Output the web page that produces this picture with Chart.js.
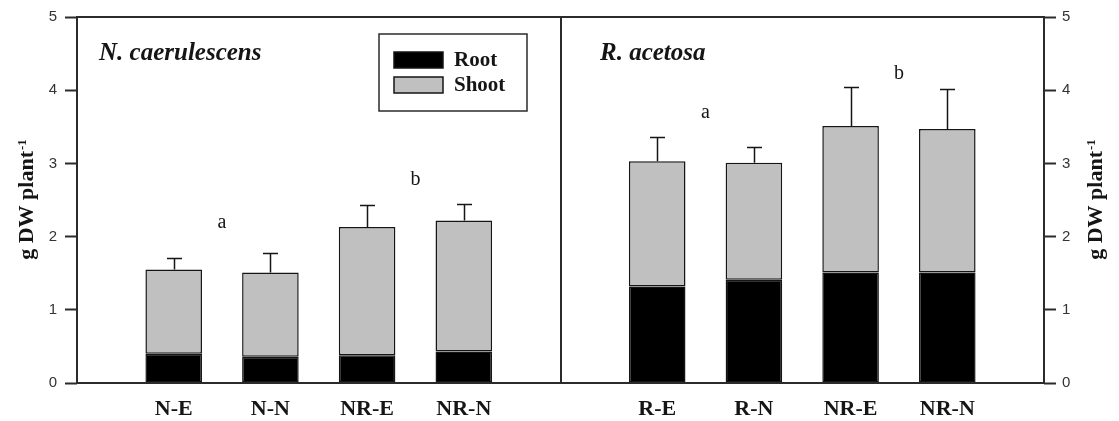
<!DOCTYPE html>
<html>
<head>
<meta charset="utf-8">
<script src="https://cdn.jsdelivr.net/npm/chart.js@4.4.0/dist/chart.umd.min.js"></script>
<style>
  html, body { margin: 0; padding: 0; background: #fff; }
  #wrap { width: 1119px; height: 421px; }
</style>
</head>
<body>
<div id="wrap"><canvas id="dwChart"></canvas></div>
<script>
// treatments in each species panel
const leftLabels = ['N-E', 'N-N', 'NR-E', 'NR-N'];
const rightLabels = ['R-E', 'R-N', 'NR-E', 'NR-N'];
const speciesNames = ['N. caerulescens', 'R. acetosa'];

// g dry weight per plant: root part, shoot part, SE of the total
const rootLeft = [0.40, 0.36, 0.38, 0.43];
const shootLeft = [1.15, 1.15, 1.75, 1.79];
const errLeft = [0.16, 0.27, 0.30, 0.23];
const rootRight = [1.32, 1.41, 1.51, 1.51];
const shootRight = [1.71, 1.60, 2.00, 1.96];
const errRight = [0.33, 0.21, 0.54, 0.54];

// significance letters, one per pair of bars, and their heights
const letters = ['a', 'b'];
const letterLeftY = [2.19, 2.77];
const letterRightY = [3.69, 4.22];

const yTicks = [0, 1, 2, 3, 4, 5];

// each panel is 5 units wide, bars sit at 1..4
const PANEL = 5;
const xPos = leftLabels.map((_, i) => i + 1).concat(rightLabels.map((_, i) => PANEL + i + 1));
const allLabels = leftLabels.concat(rightLabels);
const roots = rootLeft.concat(rootRight);
const shoots = shootLeft.concat(shootRight);
const errs = errLeft.concat(errRight);

const serif = '"Liberation Serif", "Times New Roman", serif';
const sans = '"Liberation Sans", Arial, sans-serif';
const ink = '#151515';
const lineCol = '#2b2b2b';

function drawYTitle(ctx, cx, cy) {
  const main = 'g DW plant';
  const sup = '-1';
  ctx.save();
  ctx.translate(cx, cy);
  ctx.rotate(-Math.PI / 2);
  ctx.fillStyle = ink;
  ctx.textBaseline = 'alphabetic';
  ctx.font = 'bold 22px ' + serif;
  const w1 = ctx.measureText(main).width;
  ctx.font = 'bold 13px ' + serif;
  const w2 = ctx.measureText(sup).width;
  const start = -(w1 + w2) / 2;
  ctx.font = 'bold 22px ' + serif;
  ctx.textAlign = 'left';
  ctx.fillText(main, start, 0);
  ctx.font = 'bold 13px ' + serif;
  ctx.fillText(sup, start + w1 + 1, -7);
  ctx.restore();
}

const decorPlugin = {
  id: 'decor',
  afterDatasetsDraw(chart) {
    const {ctx, chartArea: a, scales: {x, y}} = chart;
    ctx.save();

    // error bars, upper side only
    ctx.strokeStyle = ink;
    ctx.lineWidth = 1.5;
    xPos.forEach((xv, i) => {
      const px = Math.round(x.getPixelForValue(xv)) + 0.5;
      const top = y.getPixelForValue(roots[i] + shoots[i]);
      const hi = Math.round(y.getPixelForValue(roots[i] + shoots[i] + errs[i])) + 0.5;
      ctx.beginPath();
      ctx.moveTo(px, top);
      ctx.lineTo(px, hi);
      ctx.moveTo(px - 7.5, hi);
      ctx.lineTo(px + 7.5, hi);
      ctx.stroke();
    });

    // frame and panel divider
    ctx.strokeStyle = lineCol;
    ctx.lineWidth = 2;
    ctx.strokeRect(a.left, a.top, a.right - a.left, a.bottom - a.top);
    const mid = Math.round(x.getPixelForValue(PANEL));
    ctx.beginPath();
    ctx.moveTo(mid, a.top);
    ctx.lineTo(mid, a.bottom);
    ctx.stroke();

    // letters between bar pairs
    ctx.fillStyle = ink;
    ctx.font = '20px ' + serif;
    ctx.textAlign = 'center';
    ctx.textBaseline = 'middle';
    letters.forEach((t, i) => {
      ctx.fillText(t, x.getPixelForValue(1.5 + 2 * i), y.getPixelForValue(letterLeftY[i]));
      ctx.fillText(t, x.getPixelForValue(PANEL + 1.5 + 2 * i), y.getPixelForValue(letterRightY[i]));
    });

    // species names
    ctx.font = 'italic bold 25px ' + serif;
    ctx.textAlign = 'left';
    ctx.textBaseline = 'alphabetic';
    ctx.fillText(speciesNames[0], a.left + 22, a.top + 43);
    ctx.fillText(speciesNames[1], mid + 39, a.top + 43);

    // legend box
    const bx = a.left + 302, by = a.top + 17, bw = 148, bh = 77;
    ctx.strokeStyle = lineCol;
    ctx.lineWidth = 1.5;
    ctx.strokeRect(bx, by, bw, bh);
    chart.data.datasets.forEach((ds, i) => {
      const sy = by + 18 + i * 25;
      ctx.fillStyle = ds.backgroundColor;
      ctx.fillRect(bx + 15, sy, 49, 16);
      ctx.strokeStyle = ink;
      ctx.strokeRect(bx + 15, sy, 49, 16);
      ctx.fillStyle = ink;
      ctx.font = 'bold 21px ' + serif;
      ctx.textBaseline = 'middle';
      ctx.fillText(ds.label, bx + 75, sy + 9);
    });
    ctx.restore();

    // axis titles, both read bottom to top
    drawYTitle(ctx, 33, (a.top + a.bottom) / 2);
    drawYTitle(ctx, 1102, (a.top + a.bottom) / 2);
  }
};

const yAxisBase = {
  min: 0,
  max: 5,
  afterBuildTicks: s => { s.ticks = yTicks.map(v => ({value: v})); },
  grid: { drawOnChartArea: false, drawTicks: true, tickLength: 12, tickWidth: 2, tickColor: lineCol },
  border: { display: false },
  ticks: { color: '#333', font: { family: sans, size: 15 } }
};

new Chart(document.getElementById('dwChart'), {
  type: 'bar',
  data: {
    datasets: [
      {
        label: 'Root',
        data: xPos.map((xv, i) => ({x: xv, y: roots[i]})),
        backgroundColor: '#000000',
        borderColor: ink,
        borderWidth: 1.5,
        borderSkipped: false,
        barPercentage: 0.585,
        categoryPercentage: 1
      },
      {
        label: 'Shoot',
        data: xPos.map((xv, i) => ({x: xv, y: shoots[i]})),
        backgroundColor: '#c0c0c0',
        borderColor: ink,
        borderWidth: 1.5,
        borderSkipped: false,
        barPercentage: 0.585,
        categoryPercentage: 1
      }
    ]
  },
  options: {
    responsive: true,
    maintainAspectRatio: false,
    animation: false,
    layout: { padding: { top: 15, left: 0, right: 0, bottom: 0 } },
    plugins: { legend: { display: false }, tooltip: { enabled: false } },
    scales: {
      x: {
        type: 'linear',
        min: 0,
        max: 2 * PANEL,
        stacked: true,
        offset: false,
        afterBuildTicks: s => { s.ticks = xPos.map(v => ({value: v})); },
        afterFit: s => { s.height = 38; },
        grid: { display: false, drawTicks: false, offset: false },
        border: { display: false },
        ticks: {
          autoSkip: false,
          maxRotation: 0,
          padding: 13,
          color: ink,
          font: { family: serif, size: 22, weight: 'bold' },
          callback: (v, i) => allLabels[i]
        }
      },
      y: Object.assign({}, yAxisBase, {
        position: 'left',
        stacked: true,
        afterFit: s => { s.width = 77; },
        ticks: Object.assign({}, yAxisBase.ticks, { padding: 8 })
      }),
      y2: Object.assign({}, yAxisBase, {
        position: 'right',
        afterFit: s => { s.width = 75; },
        ticks: Object.assign({}, yAxisBase.ticks, { padding: 6 })
      })
    }
  },
  plugins: [decorPlugin]
});
</script>
</body>
</html>
